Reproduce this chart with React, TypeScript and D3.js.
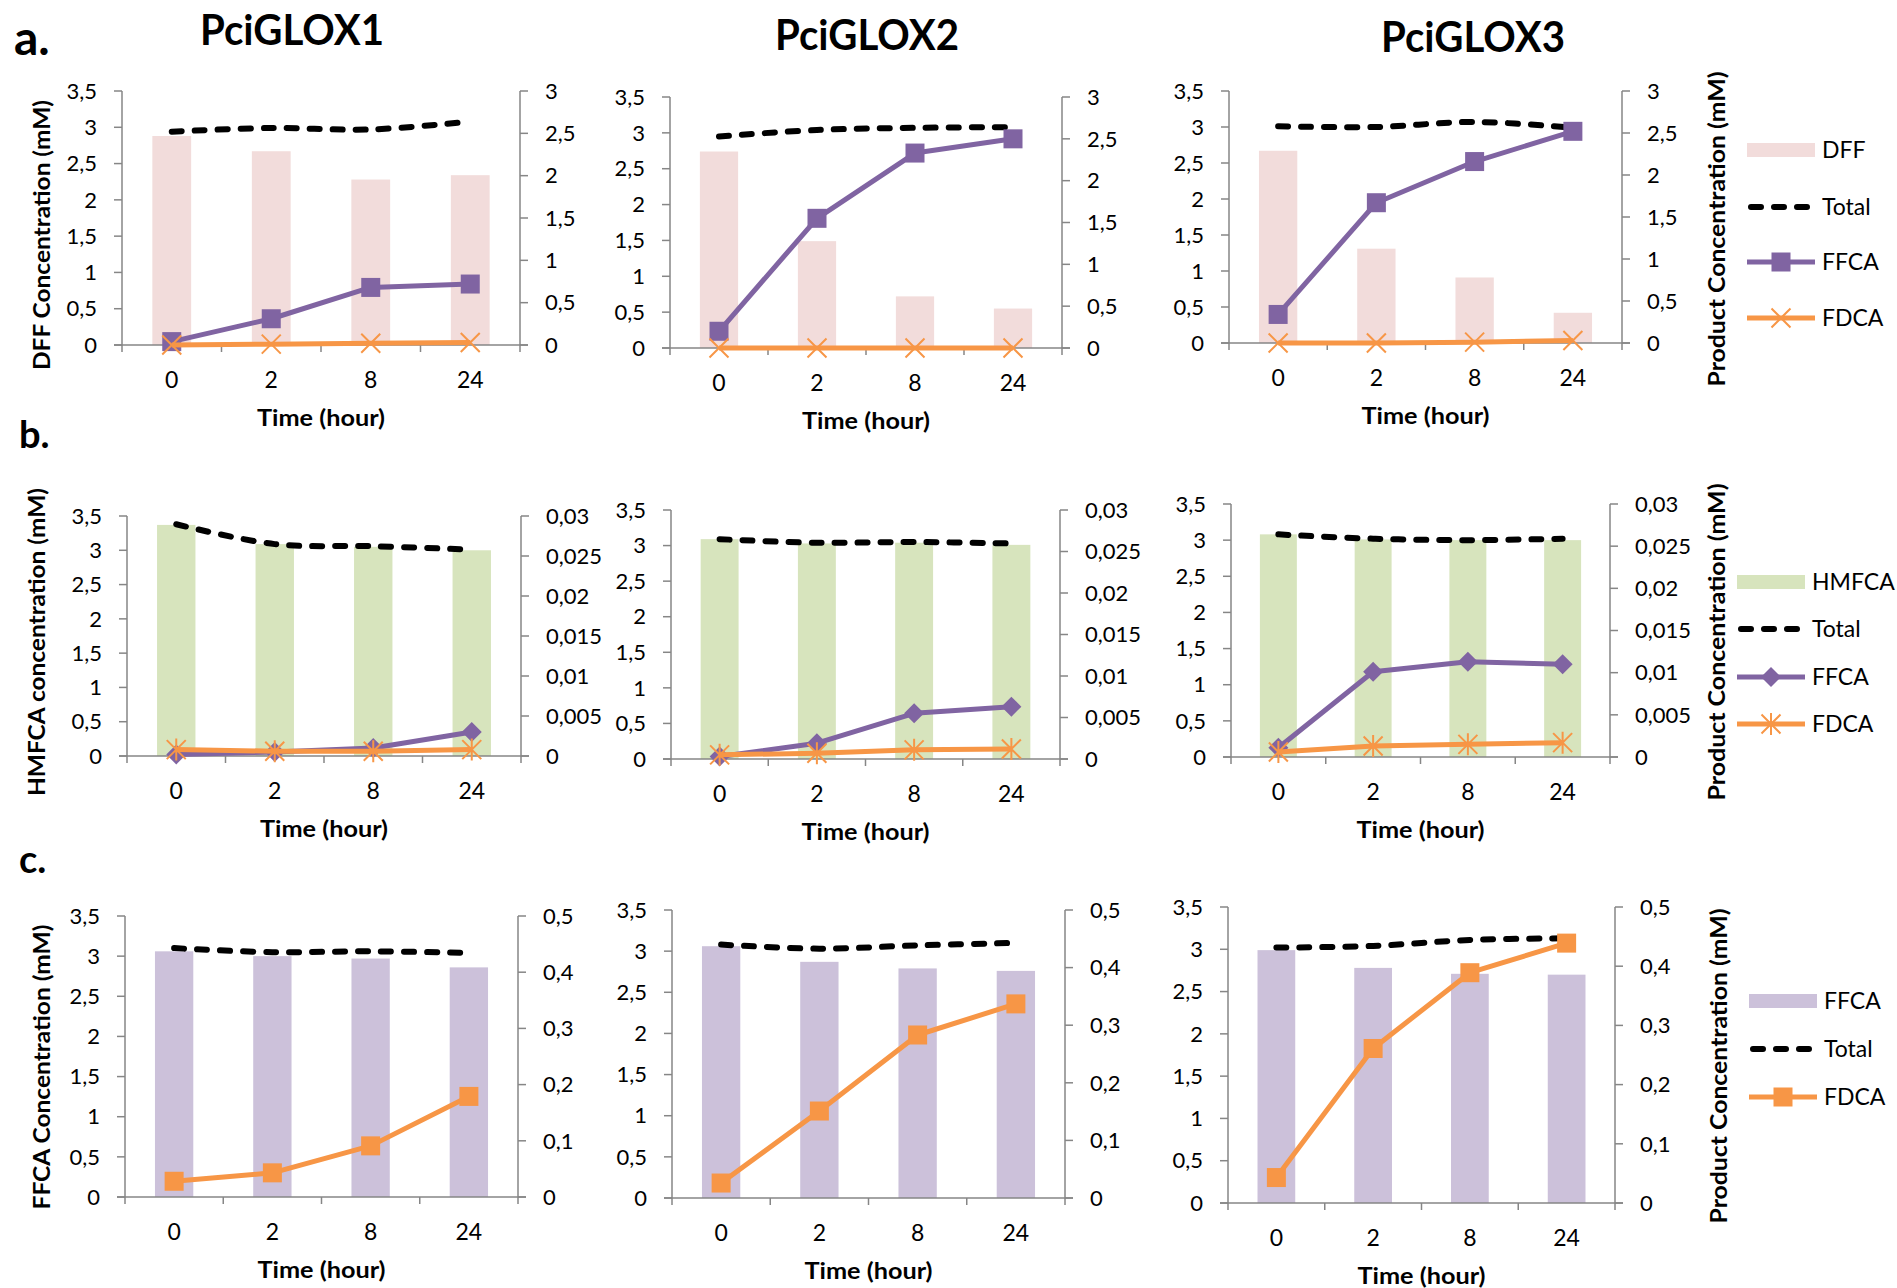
import React from 'react';
import * as d3 from 'd3';

// ── categories / labels ─────────────────────────────
const TIMES = ['0', '2', '8', '24'];
const STRAINS = ['PciGLOX1', 'PciGLOX2', 'PciGLOX3'];
const ROW_LABELS = ['a.', 'b.', 'c.'];

// ── a. DFF substrate (left axis mM), products on right axis ──
const DFF_BARS = [[2.88, 2.67, 2.28, 2.34], [2.74, 1.49, 0.72, 0.55], [2.67, 1.31, 0.91, 0.42]];
const DFF_TOTAL = [[2.94, 2.99, 2.97, 3.08], [2.95, 3.04, 3.07, 3.08], [3.01, 3.0, 3.07, 2.99]];
const DFF_FFCA = [[0.04, 0.31, 0.68, 0.72], [0.2, 1.55, 2.33, 2.5], [0.34, 1.67, 2.16, 2.52]];
const DFF_FDCA = [[0.0, 0.01, 0.02, 0.03], [0.0, 0.0, 0.0, 0.0], [0.0, 0.0, 0.01, 0.03]];

// ── b. HMFCA substrate ──
const HMFCA_BARS = [[3.37, 3.09, 3.05, 3.0], [3.09, 3.03, 3.04, 3.01], [3.08, 3.01, 3.0, 3.0]];
const HMFCA_TOTAL = [[3.38, 3.09, 3.06, 3.01], [3.09, 3.04, 3.05, 3.03], [3.08, 3.02, 3.0, 3.02]];
const HMFCA_FFCA = [[0.0002, 0.0005, 0.001, 0.003], [0.0003, 0.0019, 0.0055, 0.0063], [0.0011, 0.0101, 0.0113, 0.011]];
const HMFCA_FDCA = [[0.0008, 0.0006, 0.0006, 0.0008], [0.0005, 0.0007, 0.0011, 0.0012], [0.0006, 0.0013, 0.0015, 0.0017]];

// ── c. FFCA substrate ──
const FFCA_BARS = [[3.06, 3.0, 2.97, 2.86], [3.06, 2.87, 2.79, 2.76], [2.99, 2.78, 2.71, 2.7]];
const FFCA_TOTAL = [[3.1, 3.05, 3.06, 3.04], [3.08, 3.03, 3.07, 3.1], [3.02, 3.04, 3.11, 3.13]];
const FFCA_FDCA = [[0.028, 0.043, 0.091, 0.179], [0.026, 0.151, 0.283, 0.337], [0.043, 0.261, 0.389, 0.439]];

// couleurs type Excel
const PINK = '#f2dcdb';
const GREEN = '#d7e4bd';
const LAVENDER = '#ccc1da';
const PURPLE = '#8064a2';
const ORANGE = '#f79646';
const AXIS = '#868686';
const FONT = 'Lato, "Open Sans", sans-serif';

type Series = { name: string; values: number[][]; color: string; marker: string };
type Row = {
  barName: string; bars: number[][]; barColor: string; total: number[][];
  series: Series[]; rightMax: number; rightStep: number; yTitle: string;
};

const ROWS: Row[] = [
  {
    barName: 'DFF', bars: DFF_BARS, barColor: PINK, total: DFF_TOTAL,
    series: [
      { name: 'FFCA', values: DFF_FFCA, color: PURPLE, marker: 'square' },
      { name: 'FDCA', values: DFF_FDCA, color: ORANGE, marker: 'x' },
    ],
    rightMax: 3, rightStep: 0.5, yTitle: 'DFF Concentration (mM)',
  },
  {
    barName: 'HMFCA', bars: HMFCA_BARS, barColor: GREEN, total: HMFCA_TOTAL,
    series: [
      { name: 'FFCA', values: HMFCA_FFCA, color: PURPLE, marker: 'diamond' },
      { name: 'FDCA', values: HMFCA_FDCA, color: ORANGE, marker: 'star' },
    ],
    rightMax: 0.03, rightStep: 0.005, yTitle: 'HMFCA concentration (mM)',
  },
  {
    barName: 'FFCA', bars: FFCA_BARS, barColor: LAVENDER, total: FFCA_TOTAL,
    series: [{ name: 'FDCA', values: FFCA_FDCA, color: ORANGE, marker: 'square' }],
    rightMax: 0.5, rightStep: 0.1, yTitle: 'FFCA Concentration (mM)',
  },
];

// ── mise en page (px) ──
const FRAMES = [
  [{ l: 122, r: 520, t: 91, b: 345 }, { l: 670, r: 1062, t: 97, b: 348 }, { l: 1229, r: 1622, t: 91, b: 343 }],
  [{ l: 127, r: 521, t: 516, b: 756 }, { l: 671, r: 1060, t: 510, b: 759 }, { l: 1231, r: 1610, t: 504, b: 757 }],
  [{ l: 125, r: 518, t: 916, b: 1197 }, { l: 672, r: 1065, t: 910, b: 1198 }, { l: 1228, r: 1615, t: 907, b: 1203 }],
];
const LEFT_TITLE = [{ x: 41, cy: 235, len: 270 }, { x: 36, cy: 642, len: 308 }, { x: 41, cy: 1067, len: 285 }];
const RIGHT_TITLE = [{ x: 1716, cy: 229, len: 315 }, { x: 1716, cy: 642, len: 317 }, { x: 1718, cy: 1066, len: 315 }];
const LEGEND = [
  { x: 1747, ys: [150, 207, 262, 318] },
  { x: 1737, ys: [582, 629, 677, 724] },
  { x: 1749, ys: [1001, 1049, 1097] },
];
const TITLE_POS = [{ x: 292, y: 45 }, { x: 867, y: 50 }, { x: 1473, y: 52 }];
const ROW_LABEL_POS = [{ x: 14, y: 55, s: 48 }, { x: 19, y: 448, s: 38 }, { x: 19, y: 873, s: 38 }];

const fmt = (v: number) => String(+v.toFixed(3)).replace('.', ',');

function Marker({ type, x, y, color }: { type: string; x: number; y: number; color: string }) {
  if (type === 'square') return <rect x={x - 9.5} y={y - 9.5} width={19} height={19} fill={color} />;
  if (type === 'diamond')
    return <path d={`M${x},${y - 10}L${x + 10},${y}L${x},${y + 10}L${x - 10},${y}Z`} fill={color} />;
  const h = 9.5;
  let d = `M${x - h},${y - h}L${x + h},${y + h}M${x - h},${y + h}L${x + h},${y - h}`;
  if (type === 'star') d += `M${x},${y - h - 1.5}L${x},${y + h + 1.5}`;
  return <path d={d} stroke={color} strokeWidth={2} fill="none" />;
}

function Panel({ row, col }: { row: number; col: number }) {
  const cfg = ROWS[row];
  const f = FRAMES[row][col];
  const x = d3.scaleBand().domain(TIMES).range([f.l, f.r]).paddingInner(0.61).paddingOuter(0.305);
  const cx = (i: number) => (x(TIMES[i]) as number) + x.bandwidth() / 2;
  const yL = d3.scaleLinear().domain([0, 3.5]).range([f.b, f.t]);
  const yR = d3.scaleLinear().domain([0, cfg.rightMax]).range([f.b, f.t]);
  const leftTicks = d3.range(0, 8).map(i => i * 0.5);
  const nR = Math.round(cfg.rightMax / cfg.rightStep);
  const rightTicks = d3.range(0, nR + 1).map(i => i * cfg.rightStep);
  const bounds = d3.range(0, 5).map(i => f.l + i * x.step());

  const totalLine = d3.line<number>().x((_, i) => cx(i)).y(v => yL(v)).curve(d3.curveCatmullRom);
  const serLine = d3.line<number>().x((_, i) => cx(i)).y(v => yR(v));

  return (
    <g>
      {/* barres substrat */}
      {cfg.bars[col].map((v, i) => (
        <rect key={i} x={x(TIMES[i])} y={yL(v)} width={x.bandwidth()} height={f.b - yL(v)} fill={cfg.barColor} />
      ))}
      {/* axes */}
      <line x1={f.l} x2={f.l} y1={f.t} y2={f.b} stroke={AXIS} strokeWidth={1.5} />
      <line x1={f.r} x2={f.r} y1={f.t} y2={f.b} stroke={AXIS} strokeWidth={1.5} />
      <line x1={f.l - 8} x2={f.r + 8} y1={f.b} y2={f.b} stroke={AXIS} strokeWidth={1.5} />
      {leftTicks.map(t => (
        <g key={'l' + t}>
          <line x1={f.l - 8} x2={f.l} y1={yL(t)} y2={yL(t)} stroke={AXIS} strokeWidth={1.5} />
          <text x={f.l - 25} y={yL(t)} dy="0.35em" textAnchor="end" fontSize={22} fontFamily={FONT}>{fmt(t)}</text>
        </g>
      ))}
      {rightTicks.map(t => (
        <g key={'r' + t}>
          <line x1={f.r} x2={f.r + 8} y1={yR(t)} y2={yR(t)} stroke={AXIS} strokeWidth={1.5} />
          <text x={f.r + 25} y={yR(t)} dy="0.35em" textAnchor="start" fontSize={22} fontFamily={FONT}>{fmt(t)}</text>
        </g>
      ))}
      {bounds.map((b, i) => (
        <line key={'b' + i} x1={b} x2={b} y1={f.b} y2={f.b + 7} stroke={AXIS} strokeWidth={1.5} />
      ))}
      {TIMES.map((t, i) => (
        <text key={'c' + t} x={cx(i)} y={f.b + 43} textAnchor="middle" fontSize={23} fontFamily={FONT}>{t}</text>
      ))}
      <text x={(f.l + f.r) / 2} y={f.b + 81} textAnchor="middle" fontSize={23} fontWeight={700}
        fontFamily={FONT} textLength={128} lengthAdjust="spacingAndGlyphs">Time (hour)</text>

      {/* total */}
      <path d={totalLine(cfg.total[col]) || ''} fill="none" stroke="#000" strokeWidth={6}
        strokeDasharray="10 13" strokeLinecap="round" />
      {/* produits */}
      {cfg.series.map(s => (
        <g key={s.name}>
          <path d={serLine(s.values[col]) || ''} fill="none" stroke={s.color} strokeWidth={5} strokeLinejoin="round" />
          {s.values[col].map((v, i) => <Marker key={i} type={s.marker} x={cx(i)} y={yR(v)} color={s.color} />)}
        </g>
      ))}
    </g>
  );
}

function Legend({ row }: { row: number }) {
  const cfg = ROWS[row];
  const L = LEGEND[row];
  const items = [
    { name: cfg.barName, kind: 'bar' },
    { name: 'Total', kind: 'total' },
    ...cfg.series.map(s => ({ name: s.name, kind: 'series', s })),
  ] as any[];
  const w = 68;
  return (
    <g>
      {items.map((it, k) => {
        const y = L.ys[k];
        return (
          <g key={it.name + k}>
            {it.kind === 'bar' && <rect x={L.x} y={y - 7} width={w} height={14} fill={cfg.barColor} />}
            {it.kind === 'total' && (
              <line x1={L.x + 4} x2={L.x + w - 3} y1={y} y2={y} stroke="#000" strokeWidth={6}
                strokeDasharray="10 13" strokeLinecap="round" />
            )}
            {it.kind === 'series' && (
              <g>
                <line x1={L.x} x2={L.x + w} y1={y} y2={y} stroke={it.s.color} strokeWidth={5} />
                <Marker type={it.s.marker} x={L.x + w / 2} y={y} color={it.s.color} />
              </g>
            )}
            <text x={L.x + w + 7} y={y + 8} fontSize={23} fontFamily={FONT}>{it.name}</text>
          </g>
        );
      })}
    </g>
  );
}

export default function App() {
  return (
    <svg width={1897} height={1288} style={{ position: 'absolute', left: 0, top: 0, background: '#fff' }}>
      {STRAINS.map((s, i) => (
        <text key={s} x={TITLE_POS[i].x} y={TITLE_POS[i].y} textAnchor="middle" fontSize={42} fontWeight={700}
          fontFamily={FONT} textLength={184} lengthAdjust="spacingAndGlyphs">{s}</text>
      ))}
      {ROW_LABELS.map((lab, r) => (
        <text key={lab} x={ROW_LABEL_POS[r].x} y={ROW_LABEL_POS[r].y}
          fontSize={ROW_LABEL_POS[r].s} fontWeight={700} fontFamily={FONT}>{lab}</text>
      ))}
      {ROWS.map((cfg, r) => (
        <g key={r}>
          {[0, 1, 2].map(c => <Panel key={c} row={r} col={c} />)}
          <text transform={`translate(${LEFT_TITLE[r].x},${LEFT_TITLE[r].cy}) rotate(-90)`} textAnchor="middle"
            dominantBaseline="central" fontSize={22} fontWeight={700} fontFamily={FONT}
            textLength={LEFT_TITLE[r].len} lengthAdjust="spacingAndGlyphs">{cfg.yTitle}</text>
          <text transform={`translate(${RIGHT_TITLE[r].x},${RIGHT_TITLE[r].cy}) rotate(-90)`} textAnchor="middle"
            dominantBaseline="central" fontSize={22} fontWeight={700} fontFamily={FONT}
            textLength={RIGHT_TITLE[r].len} lengthAdjust="spacingAndGlyphs">Product Concentration (mM)</text>
          <Legend row={r} />
        </g>
      ))}
    </svg>
  );
}
